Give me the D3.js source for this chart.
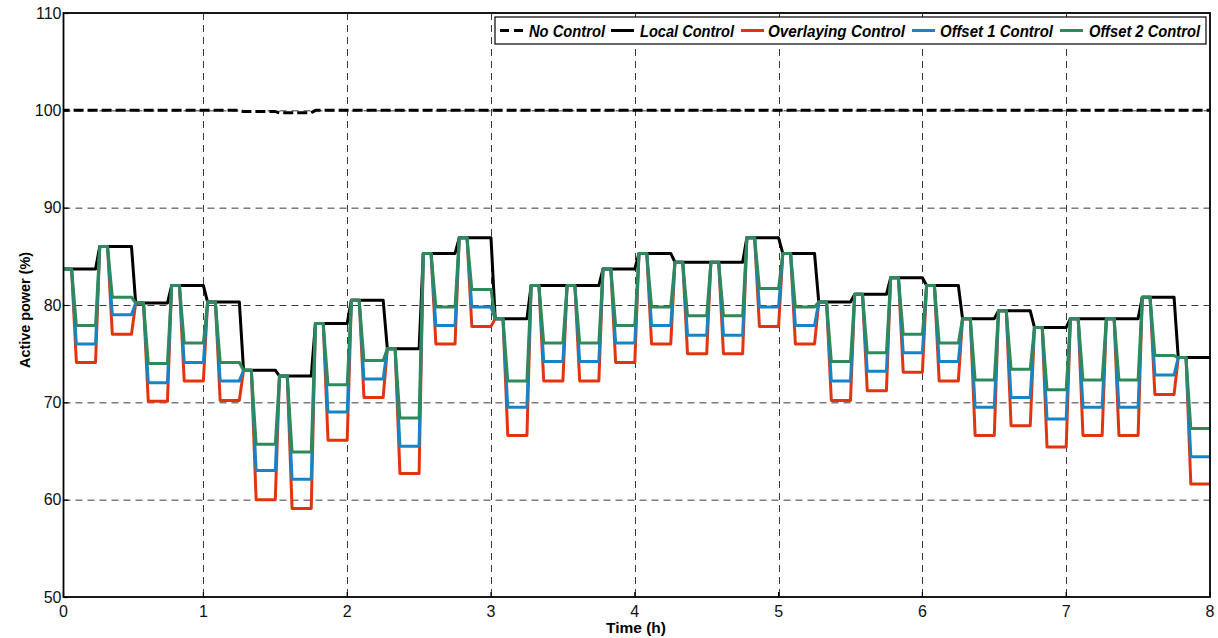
<!DOCTYPE html>
<html><head><meta charset="utf-8">
<script src="https://cdn.jsdelivr.net/npm/d3@7"></script>
<style>
body{margin:0;background:#fff;}
svg{display:block;}
</style></head><body>
<svg id="chart" width="1218" height="638"></svg>
<script>
// ---- data (15-min dispatch slots, hours) ----
const slotStart = [0,0.25,0.5,0.75,1,1.25,1.5,1.75,2,2.25,2.5,2.75,3,3.25,3.5,3.75,
                   4,4.25,4.5,4.75,5,5.25,5.5,5.75,6,6.25,6.5,6.75,7,7.25,7.5,7.75];
const noControl         = [100,100,100,100,100,99.87,99.75,100,100,100,100,100,100,100,100,100,
                           100,100,100,100,100,100,100,100,100,100,100,100,100,100,100,100];
const localControl      = [83.7,86.0,80.2,82.0,80.3,73.3,72.7,78.1,80.5,75.5,85.3,86.9,78.6,82.0,82.0,83.7,
                           85.3,84.4,84.4,86.9,85.3,80.3,81.1,82.8,82.0,78.6,79.4,77.7,78.6,78.6,80.8,74.6];
const overlayingControl = [74.1,77.0,70.1,72.2,70.2,60.0,59.1,66.1,70.5,62.7,76.0,77.8,66.6,72.2,72.2,74.1,
                           76.0,75.0,75.0,77.8,76.0,70.2,71.2,73.1,72.2,66.6,67.6,65.4,66.6,66.6,70.8,61.6];
const offset1Control    = [76.0,79.0,72.0,74.1,72.2,63.0,62.1,69.0,72.4,65.5,77.9,79.8,69.5,74.2,74.2,76.1,
                           77.9,76.9,76.9,79.8,77.9,72.2,73.2,75.1,74.2,69.5,70.5,68.3,69.5,69.5,72.8,64.4];
const offset2Control    = [77.9,80.8,74.0,76.1,74.1,65.7,64.9,71.8,74.3,68.4,79.8,81.6,72.2,76.1,76.1,77.9,
                           79.8,78.9,78.9,81.7,79.8,74.2,75.1,77.0,76.1,72.3,73.4,71.3,72.3,72.3,74.8,67.3];
const seriesNames = ["No Control","Local Control","Overlaying Control","Offset 1 Control","Offset 2 Control"];
const xTickValues = [0,1,2,3,4,5,6,7,8];
const yTickValues = [50,60,70,80,90,100,110];
const tEnd = 8;
// ramp timings inside a slot (hours)
const RAMP = 1.75/60, HOLD = 5/60, DROP = 7/60;

// ---- layout ----
const svg = d3.select("#chart");
const P = {left:63.5, right:1210, top:13, bottom:597};
const x = d3.scaleLinear().domain([0, 8]).range([59.6, 1210]);
const y = d3.scaleLinear().domain([50, 110]).range([P.bottom, P.top]);
const colors = ["#000000","#000000","#e2350e","#1784c8","#2e8a5a"];
const tickFont = "'Liberation Sans', Arial, sans-serif";

svg.append("rect").attr("width",1218).attr("height",638).attr("fill","#fff");
svg.append("defs").append("clipPath").attr("id","clip")
  .append("rect").attr("x",P.left).attr("y",P.top).attr("width",P.right-P.left).attr("height",P.bottom-P.top);

// grid
const grid = svg.append("g").attr("stroke","#3a3a3a").attr("stroke-width",1).attr("stroke-dasharray","7,5");
grid.selectAll("line.h").data(yTickValues.filter(v=>v>50&&v<110)).join("line")
  .attr("x1",P.left).attr("x2",P.right).attr("y1",d=>y(d)+0.5).attr("y2",d=>y(d)+0.5);
grid.selectAll("line.v").data(xTickValues.filter(v=>v>0&&v<8)).join("line")
  .attr("y1",P.top).attr("y2",P.bottom).attr("x1",d=>Math.round(x(d))+0.5).attr("x2",d=>Math.round(x(d))+0.5);

// series geometry
function stepPoints(vals){
  const pts=[[slotStart[0], vals[0]]];
  for(let k=1;k<vals.length;k++){ pts.push([slotStart[k], vals[k-1]],[slotStart[k]+RAMP, vals[k]]); }
  pts.push([tEnd, vals[vals.length-1]]);
  return pts;
}
function controlPoints(base, ctrl){
  const pts=[];
  for(let k=0;k<ctrl.length;k++){
    const t=slotStart[k];
    if(k===0) pts.push([t, base[0]]);
    else pts.push([t, ctrl[k-1]],[t+RAMP, base[k]]);
    pts.push([t+HOLD, base[k]],[t+DROP, ctrl[k]]);
  }
  pts.push([tEnd, ctrl[ctrl.length-1]]);
  return pts;
}
const seriesPts = [
  stepPoints(noControl),
  stepPoints(localControl),
  controlPoints(localControl, overlayingControl),
  controlPoints(localControl, offset1Control),
  controlPoints(localControl, offset2Control)
];
const line = d3.line().x(d=>x(d[0])).y(d=>y(d[1]));
const gS = svg.append("g").attr("clip-path","url(#clip)");
seriesPts.forEach((pts,i)=>{
  gS.append("path").attr("d",line(pts)).attr("fill","none")
    .attr("stroke",colors[i]).attr("stroke-width",3)
    .attr("stroke-linejoin","round")
    .attr("stroke-dasharray", i===0 ? "10,4" : null);
});

// axes
const xAxis = svg.append("g").attr("transform",`translate(0,${P.bottom})`)
  .call(d3.axisBottom(x).tickValues(xTickValues).tickFormat(d3.format("d")).tickSize(-5).tickPadding(8));
xAxis.selectAll(".tick").attr("transform", d=>`translate(${Math.max(x(d),P.left)},0)`);
const yAxis = svg.append("g").attr("transform",`translate(${P.left},0)`)
  .call(d3.axisLeft(y).tickValues(yTickValues).tickFormat(d3.format("d")).tickSize(-5).tickPadding(2));
[xAxis,yAxis].forEach(g=>{
  g.select(".domain").remove();
  g.selectAll("text").attr("font-family",tickFont).attr("font-size",16).attr("fill","#111");
  g.selectAll("line").attr("stroke","#000").attr("stroke-width",1.2);
});
xAxis.selectAll("text").attr("dy","0.75em");
// frame
svg.append("rect").attr("x",P.left).attr("y",P.top).attr("width",P.right-P.left).attr("height",P.bottom-P.top)
  .attr("fill","none").attr("stroke","#000").attr("stroke-width",1.8);

// axis titles
svg.append("text").attr("x",636).attr("y",633).attr("text-anchor","middle")
  .attr("font-family",tickFont).attr("font-weight","bold").attr("font-size",15.5).text("Time (h)");
svg.append("text").attr("transform","translate(25,310) rotate(-90)").attr("text-anchor","middle")
  .attr("font-family",tickFont).attr("font-weight","bold").attr("font-size",15).attr("dy","0.35em")
  .attr("textLength",116).attr("lengthAdjust","spacingAndGlyphs").text("Active power (%)");

// legend
const legendFont = "'Liberation Sans', Arial, sans-serif";
const lg = svg.append("g");
lg.append("rect").attr("x",495).attr("y",17).attr("width",711).attr("height",27)
  .attr("fill","#fff").attr("stroke","#000").attr("stroke-width",1.2);
const legendSampleX = [500,611,741,912,1060];
const legendTextX = [529,640,768,940,1089];
const legendTextW = [76,94,137,113,111];
seriesNames.forEach((name,i)=>{
  lg.append("line").attr("x1",legendSampleX[i]).attr("x2",legendSampleX[i]+23).attr("y1",30.5).attr("y2",30.5)
    .attr("stroke",colors[i]).attr("stroke-width",3).attr("stroke-dasharray", i===0 ? "9,5" : null);
  lg.append("text").attr("x",legendTextX[i]).attr("y",36.5)
    .attr("font-family",legendFont).attr("font-weight","bold").attr("font-style","italic")
    .attr("font-size",17).attr("fill","#000")
    .attr("textLength",legendTextW[i]).attr("lengthAdjust","spacingAndGlyphs").text(name);
});
</script>
</body></html>
